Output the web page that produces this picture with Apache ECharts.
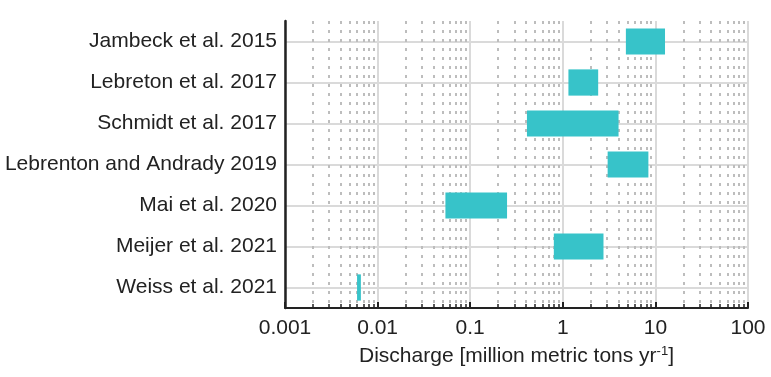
<!DOCTYPE html>
<html>
<head>
<meta charset="utf-8">
<script src="https://cdn.jsdelivr.net/npm/echarts@6/dist/echarts.min.js"></script>
<style>
    html, body { margin: 0; padding: 0; background: #fff; }
    #chart { width: 771px; height: 377px; }
</style>
</head>
<body>
<div id="chart"></div>
<script>
    // studies, top to bottom
    const studies = [
        'Jambeck et al. 2015',
        'Lebreton et al. 2017',
        'Schmidt et al. 2017',
        'Lebrenton and Andrady 2019',
        'Mai et al. 2020',
        'Meijer et al. 2021',
        'Weiss et al. 2021'
    ]
    // discharge range, million metric tons per year
    const lowValues = [4.8, 1.15, 0.41, 3.05, 0.054, 0.8, 0.006]
    const highValues = [12.7, 2.41, 4.0, 8.4, 0.25, 2.75, 0.0066]

    const xTicks = [0.001, 0.01, 0.1, 1, 10, 100]
    const xTickLabels = ['0.001', '0.01', '0.1', '1', '10', '100']
    const minorTicks = []
    xTicks.slice(0, -1).forEach(d => {
        for (let k = 2; k <= 9; k++) minorTicks.push(d * k)
    })

    const font = "'Liberation Sans', Arial, sans-serif"
    const dark = '#222222'

    const myChart = echarts.init(document.getElementById('chart'))

    myChart.setOption({
        animation: false,
        grid: {
            left: 285,
            right: 23,
            top: 21,
            bottom: 69
        },
        xAxis: [{
            type: 'log',
            logBase: 10,
            min: 0.001,
            max: 100,
            position: 'bottom',
            axisLine: {
                show: true,
                onZero: false,
                lineStyle: { color: dark, width: 2 }
            },
            axisTick: {
                show: true,
                inside: true,
                length: 6,
                lineStyle: { color: dark, width: 2 }
            },
            axisLabel: {
                margin: 10,
                fontFamily: font,
                fontSize: 21,
                color: dark,
                formatter: (v) => xTickLabels[Math.round(Math.log10(v)) + 3]
            },
            splitLine: {
                show: true,
                lineStyle: { color: '#dadada', width: 2 }
            },
            name: 'Discharge [million metric tons yr{sup|-1}]',
            nameLocation: 'middle',
            nameGap: 37,
            nameTextStyle: {
                fontFamily: font,
                fontSize: 21,
                color: dark,
                rich: {
                    sup: {
                        fontFamily: font,
                        fontSize: 13,
                        color: dark,
                        verticalAlign: 'top',
                        padding: [0, 0, 10, 0]
                    }
                }
            }
        }, {
            type: 'log',
            logBase: 10,
            min: 0.001,
            max: 100,
            position: 'bottom',
            axisLine: { show: false, onZero: false },
            axisLabel: { show: false },
            axisTick: {
                show: true,
                inside: true,
                length: 4,
                customValues: minorTicks,
                lineStyle: { color: dark, width: 1.5 }
            },
            splitLine: {
                show: true,
                lineStyle: { color: '#bdbdbd', width: 2, type: [3, 6] }
            }
        }],
        yAxis: {
            type: 'category',
            inverse: true,
            data: studies,
            axisLine: {
                lineStyle: { color: dark, width: 2.5 }
            },
            axisTick: {
                inside: true,
                alignWithLabel: true,
                length: 5,
                lineStyle: { color: dark, width: 2 }
            },
            axisLabel: {
                margin: 8,
                fontFamily: font,
                fontSize: 21,
                color: dark
            },
            splitLine: {
                show: true,
                alignWithLabel: true,
                lineStyle: { color: '#dadada', width: 2 }
            }
        },
        series: [{
            type: 'custom',
            xAxisIndex: 0,
            z: 10,
            data: studies.map((s, i) => [i, lowValues[i], highValues[i]]),
            encode: { x: [1, 2], y: 0 },
            renderItem: (params, api) => {
                const idx = api.value(0)
                const start = api.coord([api.value(1), idx])
                const end = api.coord([api.value(2), idx])
                const h = api.size([1, 1])[1] * 0.64
                return {
                    type: 'rect',
                    shape: {
                        x: start[0],
                        y: start[1] - h / 2,
                        width: end[0] - start[0],
                        height: h
                    },
                    style: { fill: '#37c3c9' }
                }
            }
        }]
    })
</script>
</body>
</html>
